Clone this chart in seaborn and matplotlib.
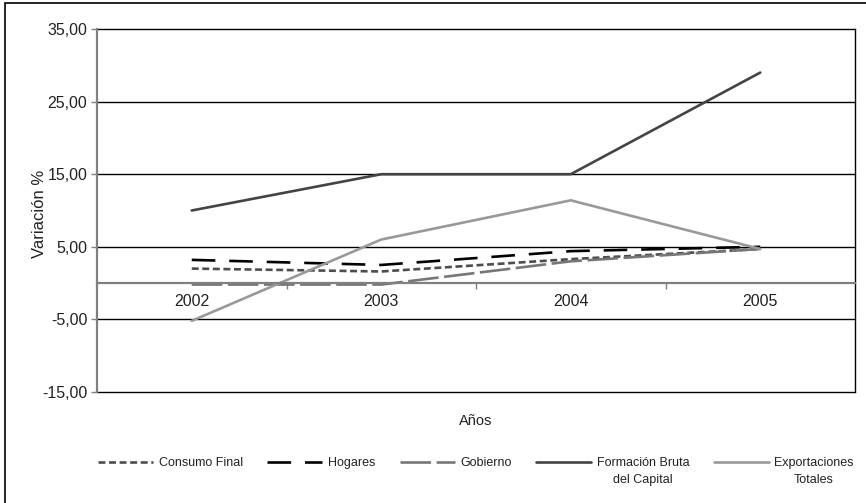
import matplotlib
matplotlib.use('Agg')
import matplotlib.pyplot as plt
import matplotlib.ticker as mticker
from matplotlib.patches import Rectangle
import pandas as pd
import seaborn as sns

years = ['2002', '2003', '2004', '2005']
consumo_final = [2.0, 1.6, 3.3, 4.7]
hogares = [3.2, 2.5, 4.4, 5.0]
gobierno = [-0.2, -0.2, 3.0, 4.7]
formacion = [10.0, 15.0, 15.0, 29.0]
exportaciones = [-5.2, 6.0, 11.4, 4.7]

# legend label: (first line, second line)
names = [('Consumo Final', ''), ('Hogares', ''), ('Gobierno', ''),
         ('Formación Bruta', 'del Capital'), ('Exportaciones', 'Totales')]
values = [consumo_final, hogares, gobierno, formacion, exportaciones]
colors = ['#4d4d4d', '#000000', '#777777', '#444444', '#999999']
dash_styles = [(5, 2.6), (17, 10), (22, 4), None, None]

sns.set_theme(style='white')
plt.rcParams['font.family'] = ['Liberation Sans', 'DejaVu Sans']
plt.rcParams['lines.scale_dashes'] = False

fig = plt.figure(figsize=(8.66, 5.03), dpi=100)
ax = fig.add_axes([97 / 866, 1 - 392 / 503, (855 - 97) / 866, (392 - 29) / 503])

for (name, _), vals, col, dash in zip(names, values, colors, dash_styles):
    df = pd.DataFrame({'x': range(len(years)), 'y': vals})
    sns.lineplot(data=df, x='x', y='y', ax=ax, color=col, linewidth=1.9,
                 label=name, legend=False)
    line = ax.lines[-1]
    if dash is not None:
        line.set_dashes(dash)
    line.set_dash_capstyle('butt')

ax.set_xlim(-0.5, len(years) - 0.5)
ax.set_ylim(-15, 35)
ax.set_yticks([-15, -5, 5, 15, 25, 35])
ax.yaxis.set_major_formatter(mticker.FuncFormatter(lambda v, p: f'{v:.2f}'.replace('.', ',')))
ax.grid(False)
for yv in [-15, -5, 5, 15, 25, 35]:
    ax.axhline(yv, color='black', linewidth=1.0, zorder=0.5, clip_on=False)

ax.set_xticks(range(len(years)))
ax.set_xticklabels(years)
ax.set_xticks([0.5, 1.5, 2.5], minor=True)
ax.tick_params(axis='x', which='major', length=0, pad=8, labelsize=11.5, colors='#222222')
ax.tick_params(axis='x', which='minor', length=4, width=1, color='#808080', direction='out', bottom=True)
ax.tick_params(axis='y', length=4, width=1, color='#808080', direction='out', left=True,
               labelsize=11.5, labelcolor='#222222', pad=3)

ax.spines['bottom'].set_position(('data', 0))
ax.spines['bottom'].set_color('#808080')
ax.spines['bottom'].set_linewidth(1.6)
ax.spines['left'].set_color('#808080')
ax.spines['left'].set_linewidth(1.6)
ax.spines['right'].set_color('black')
ax.spines['right'].set_linewidth(1.0)
ax.spines['top'].set_visible(False)

ax.set_xlabel('')
ax.set_ylabel('Variación %', fontsize=12, color='#222222')
ax.yaxis.set_label_coords((47 - 97) / 758, 0.49)
fig.text(476 / 866, 1 - 421 / 503, 'Años', ha='center', va='center', fontsize=10.5, color='#222222')

handles, labels = ax.get_legend_handles_labels()
leg = fig.legend(handles, labels, loc='center', bbox_to_anchor=(476 / 866, 1 - 463 / 503),
                 ncol=5, frameon=False, fontsize=9, handlelength=4.4, handletextpad=0.45,
                 columnspacing=1.95, labelcolor='#222222')

# second lines of the two-line legend labels, centred under the first line
fig.canvas.draw()
renderer = fig.canvas.get_renderer()
for t, (_, second) in zip(leg.get_texts(), names):
    if second:
        bb = t.get_window_extent(renderer).transformed(fig.transFigure.inverted())
        fig.text((bb.x0 + bb.x1) / 2, bb.y0 - 0.01, second, ha='center', va='top',
                 fontsize=9, color='#222222')

fig.patches.append(Rectangle((5 / 866, -0.1), 1.2, (1 - 3 / 503) + 0.1, transform=fig.transFigure,
                             fill=False, edgecolor='black', linewidth=1.2, figure=fig))

fig.savefig('out.png', dpi=100)
